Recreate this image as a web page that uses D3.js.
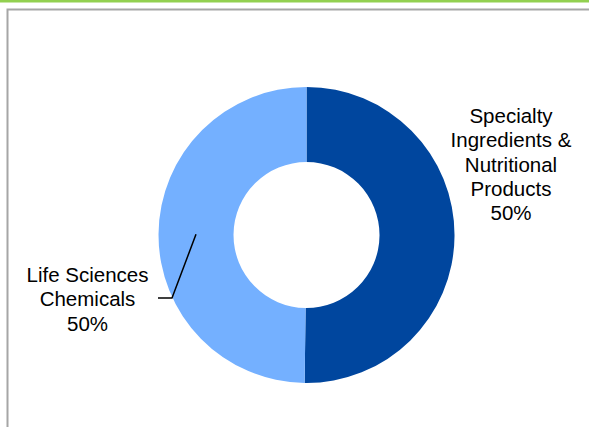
<!DOCTYPE html>
<html>
<head>
<meta charset="utf-8">
<script src="https://cdn.jsdelivr.net/npm/d3@7"></script>
<style>
	body { margin: 0; background: #fff; }
	svg { display: block; font-family: "Liberation Sans", Arial, sans-serif; }
</style>
</head>
<body>
<div id="chart"></div>
<script>
// segment data (share of sales, %)
var segments = ["Specialty Ingredients & Nutritional Products", "Life Sciences Chemicals"];
var shares = [50.2, 49.8];
var labelLines = [
	["Specialty", "Ingredients &", "Nutritional", "Products", "50%"],
	["Life Sciences", "Chemicals", "50%"]
];
var colors = ["#00469e", "#74b0ff"];

var width = 589, height = 427;
var cx = 306.5, cy = 235;
var outerR = 148, innerR = 73;

var svg = d3.select("#chart")
	.append("svg")
	.attr("width", width)
	.attr("height", height);

// green band + gray frame
svg.append("rect")
	.attr("x", 0).attr("y", 0)
	.attr("width", width).attr("height", 2.5)
	.style("fill", "#92d050");

svg.append("path")
	.attr("d", "M" + 7.5 + "," + height + " V" + 9.5 + " H" + width)
	.style("fill", "none")
	.style("stroke", "#a6a6a6")
	.style("stroke-width", 2);

var data = segments.map(function(s, i) { return {name: s, value: shares[i], lines: labelLines[i]}; });

var pie = d3.pie()
	.sort(null)
	.value(function(d) { return d.value; });

var arc = d3.arc()
	.innerRadius(innerR)
	.outerRadius(outerR);

var g = svg.append("g")
	.attr("transform", "translate(" + cx + "," + cy + ")");

var arcs = pie(data);

g.selectAll("path")
	.data(arcs)
	.enter().append("path")
	.attr("d", arc)
	.style("fill", function(d, i) { return colors[i]; });

// labels - right one sits outside without leader, left one has a leader line
var fontSize = 20.5;
var lineH = 24.3;
var labelPos = [
	{x: 511 - cx, y: 123 - cy},
	{x: 87.5 - cx, y: 282 - cy}
];

arcs.forEach(function(a, i) {
	var t = g.append("text")
		.attr("text-anchor", "middle")
		.style("font-size", fontSize + "px")
		.style("fill", "#000");
	a.data.lines.forEach(function(l, j) {
		t.append("tspan")
			.attr("x", labelPos[i].x)
			.attr("y", labelPos[i].y + j * lineH)
			.text(l);
	});
});

// leader line for Life Sciences Chemicals
var c = arc.centroid(arcs[1]);
var elbow = [172 - cx, 298 - cy];
g.append("polyline")
	.attr("points", [c, elbow, [158 - cx, 298 - cy]].map(function(p) { return p.join(","); }).join(" "))
	.style("fill", "none")
	.style("stroke", "#000")
	.style("stroke-width", 1.5);
</script>
</body>
</html>
